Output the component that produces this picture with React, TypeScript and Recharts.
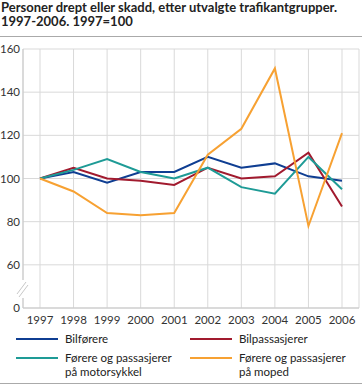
import { LineChart, Line, XAxis, YAxis, CartesianGrid } from "recharts";

const YEARS = ["1997", "1998", "1999", "2000", "2001", "2002", "2003", "2004", "2005", "2006"];
const BILFORERE = [100, 103, 98, 103, 103, 110, 105, 107, 101, 99];
const BILPASSASJERER = [100, 105, 100, 99, 97, 105, 100, 101, 112, 87];
const MOTORSYKKEL = [100, 104, 109, 103, 100, 105, 96, 93, 110, 95];
const MOPED = [100, 94, 84, 83, 84, 111, 123, 151, 78, 121];
// 40 is drawn as "0" (broken axis)
const Y_TICKS = [40, 60, 80, 100, 120, 140, 160];

const FONT = "Lato, 'Open Sans', sans-serif";
const GRID = "#d9d9d9";
const AXIS = "#c8c8c8";

const SERIES = [
  { key: "bilforere", name: "Bilførere", color: "#0f3e92" },
  { key: "bilpass", name: "Bilpassasjerer", color: "#a11a2e" },
  { key: "motor", name: "Førere og passasjerer\npå motorsykkel", color: "#1e9b96" },
  { key: "moped", name: "Førere og passasjerer\npå moped", color: "#f7a132" },
];

const data = YEARS.map((year, i) => ({
  year,
  bilforere: BILFORERE[i],
  bilpass: BILPASSASJERER[i],
  motor: MOTORSYKKEL[i],
  moped: MOPED[i],
}));

function LegendBox() {
  return (
    <div
      style={{
        position: "absolute",
        left: 16,
        top: 332,
        display: "grid",
        gridTemplateColumns: "174px 174px",
        rowGap: 5,
        fontFamily: FONT,
        fontSize: 11.5,
        color: "#222",
        lineHeight: "14px",
      }}
    >
      {SERIES.map((s) => (
        <div key={s.key} style={{ display: "flex", alignItems: "flex-start" }}>
          <span style={{ display: "inline-block", width: 42, height: 2, background: s.color, marginTop: 6, marginRight: 7 }} />
          <span style={{ whiteSpace: "pre" }}>{s.name}</span>
        </div>
      ))}
    </div>
  );
}

export default function App() {
  return (
    <div style={{ position: "fixed", left: 0, top: 0, width: 362, height: 386, background: "#fff", overflow: "hidden" }}>
      <div style={{ position: "absolute", left: 1, top: 0, fontFamily: FONT, fontWeight: 700, fontSize: 13, lineHeight: "14px", color: "#222" }}>
        Personer drept eller skadd, etter utvalgte trafikantgrupper.
        <br />
        1997-2006. 1997=100
      </div>
      <div style={{ position: "absolute", left: 0, top: 36, width: 362, height: 1, background: "#aaa" }} />
      <LineChart width={362} height={386} data={data} margin={{ top: 49, right: 3, bottom: 48, left: 0 }}>
        <CartesianGrid stroke={GRID} strokeWidth={1} />
        <XAxis
          dataKey="year"
          padding={{ left: 17, right: 17 }}
          tickLine={false}
          axisLine={{ stroke: AXIS }}
          height={30}
          tick={{ fill: "#333", fontSize: 11.5, fontFamily: FONT }}
          interval={0}
        />
        <YAxis
          domain={[40, 160]}
          ticks={Y_TICKS}
          width={23}
          tickLine={false}
          tickSize={0}
          axisLine={{ stroke: AXIS }}
          tickMargin={3}
          tick={{ fill: "#333", fontSize: 11.5, fontFamily: FONT }}
          tickFormatter={(v: number) => (v === 40 ? "0" : String(v))}
        />
        {SERIES.map((s) => (
          <Line
            key={s.key}
            dataKey={s.key}
            name={s.name}
            stroke={s.color}
            strokeWidth={2}
            dot={false}
            activeDot={false}
            isAnimationActive={false}
          />
        ))}
      </LineChart>
      <svg style={{ position: "absolute", left: 0, top: 0 }} width={362} height={386} pointerEvents="none">
        <rect x={20} y={280} width={8} height={18} fill="#fff" />
        <line x1={17} y1={294} x2={26} y2={282} stroke={AXIS} strokeWidth={1} />
        <line x1={19} y1={297} x2={28} y2={285} stroke={AXIS} strokeWidth={1} />
      </svg>
      <LegendBox />
      <div style={{ position: "absolute", left: 0, top: 383, width: 362, height: 1, background: "#aaa" }} />
    </div>
  );
}
